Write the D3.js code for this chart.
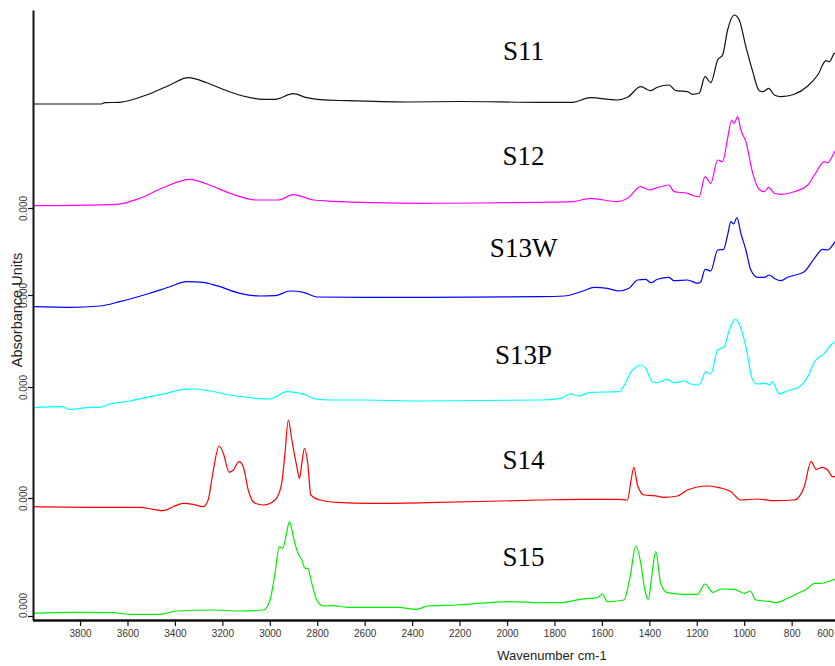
<!DOCTYPE html>
<html><head><meta charset="utf-8">
<script src="https://cdn.jsdelivr.net/npm/d3@7/dist/d3.min.js"></script>
<style>body{margin:0;background:#fff}svg{display:block}</style>
</head><body><svg id="chart" width="835" height="666"></svg>
<script>
// ---------- data ----------
const seriesNames   = ["S11", "S12", "S13W", "S13P", "S14", "S15"];
const seriesColors  = ["#111111", "#ff00ff", "#0000ff", "#00ffff", "#ff0000", "#00ee00"];
const seriesOffsets = [5.16, 4.12, 3.25, 2.33, 1.22, 0.04];   // stacked zero of each spectrum
const labelWavenumber = 1930;
const labelLevels   = [5.60, 4.55, 3.63, 2.56, 1.51, 0.54];
const xTickValues   = [3800, 3600, 3400, 3200, 3000, 2800, 2600, 2400, 2200, 2000, 1800, 1600, 1400, 1200, 1000, 800, 600];
const yTickValues   = [4.12, 3.25, 2.33, 1.22, 0.04];
const yTickLabel    = "0.000";

const s11 = [[4000,0],[3710,0],[3696,0.013],[3633,0.017],[3520,0.09],[3421,0.19],[3344,0.263],[3266,0.213],[3198,0.147],[3113,0.08],[3029,0.047],[2978,0.047],[2901,0.103],[2844,0.063],[2788,0.043],[2675,0.033],[2422,0.02],[2197,0.025],[1859,0.017],[1725,0.017],[1648,0.063],[1535,0.04],[1492,0.067],[1436,0.173],[1394,0.133],[1366,0.167],[1317,0.19],[1288,0.133],[1239,0.123],[1218,0.097],[1190,0.107],[1165,0.273],[1141,0.213],[1112,0.44],[1091,0.49],[1070,0.74],[1042,0.89],[1021,0.84],[993,0.573],[964,0.323],[937,0.133],[922,0.123],[897,0.157],[873,0.09],[845,0.073],[789,0.097],[732,0.18],[690,0.29],[655,0.433],[641,0.423],[620,0.507],[600,0.52]];
const s12 = [[4000,0.023],[3646,0.037],[3548,0.097],[3450,0.203],[3337,0.287],[3266,0.24],[3168,0.147],[3055,0.08],[2964,0.08],[2901,0.133],[2816,0.08],[2732,0.067],[2563,0.053],[2366,0.047],[2112,0.05],[1859,0.057],[1725,0.063],[1648,0.097],[1535,0.063],[1492,0.097],[1436,0.213],[1401,0.18],[1366,0.203],[1317,0.23],[1296,0.163],[1239,0.147],[1211,0.12],[1190,0.113],[1165,0.313],[1141,0.247],[1112,0.48],[1091,0.463],[1070,0.697],[1053,0.88],[1042,0.847],[1028,0.913],[1014,0.78],[993,0.663],[964,0.347],[937,0.187],[916,0.163],[897,0.207],[873,0.147],[845,0.137],[789,0.163],[732,0.23],[704,0.33],[662,0.463],[648,0.453],[613,0.58],[600,0.6]];
const s13w = [[4000,-0.117],[3844,-0.123],[3717,-0.11],[3633,-0.067],[3506,0.017],[3421,0.083],[3351,0.133],[3281,0.127],[3224,0.093],[3126,0.017],[3041,-0.01],[2978,-0.007],[2915,0.04],[2858,0.027],[2802,-0.02],[2605,-0.023],[2337,-0.023],[1859,-0.017],[1760,-0.01],[1676,0.043],[1634,0.077],[1577,0.067],[1528,0.04],[1486,0.067],[1450,0.15],[1415,0.157],[1394,0.123],[1366,0.157],[1317,0.177],[1296,0.143],[1239,0.15],[1197,0.117],[1183,0.133],[1165,0.257],[1141,0.24],[1112,0.45],[1087,0.457],[1070,0.6],[1056,0.733],[1045,0.71],[1031,0.773],[1014,0.617],[993,0.45],[972,0.25],[943,0.177],[916,0.177],[894,0.2],[873,0.167],[845,0.143],[817,0.177],[747,0.233],[704,0.367],[669,0.457],[648,0.45],[613,0.54],[600,0.56]];
const s13p = [[4000,-0.207],[3879,-0.197],[3844,-0.223],[3752,-0.203],[3717,-0.203],[3675,-0.17],[3590,-0.14],[3506,-0.097],[3435,-0.063],[3365,-0.023],[3309,-0.02],[3252,-0.04],[3168,-0.08],[3084,-0.107],[2999,-0.12],[2929,-0.047],[2886,-0.057],[2844,-0.083],[2816,-0.117],[2746,-0.13],[2605,-0.13],[2366,-0.14],[1859,-0.13],[1774,-0.113],[1732,-0.07],[1697,-0.09],[1648,-0.053],[1528,-0.047],[1471,0.17],[1436,0.22],[1415,0.187],[1387,0.053],[1366,0.043],[1324,0.077],[1296,0.043],[1253,0.06],[1225,0.03],[1190,0.02],[1162,0.153],[1141,0.13],[1112,0.37],[1084,0.403],[1063,0.57],[1038,0.677],[1014,0.587],[993,0.403],[964,0.07],[943,0.03],[908,0.037],[894,0.02],[880,0.053],[869,0.003],[852,-0.07],[817,-0.037],[774,-0.007],[732,0.103],[704,0.253],[662,0.337],[634,0.42],[613,0.46],[600,0.47]];
const s14 = [[4000,-0.087],[3759,-0.093],[3548,-0.093],[3492,-0.113],[3450,-0.127],[3407,-0.087],[3365,-0.053],[3323,-0.063],[3281,-0.087],[3260,-0.02],[3238,0.28],[3214,0.52],[3196,0.447],[3171,0.257],[3154,0.28],[3130,0.363],[3112,0.313],[3091,0.08],[3062,-0.053],[3027,-0.07],[2978,-0.02],[2950,0.147],[2936,0.447],[2922,0.78],[2907,0.58],[2886,0.313],[2875,0.197],[2865,0.347],[2854,0.497],[2840,0.347],[2827,0.03],[2788,-0.02],[2717,-0.043],[2577,-0.053],[2337,-0.047],[1859,-0.02],[1690,-0.013],[1535,-0.013],[1492,-0.02],[1478,0.163],[1465,0.307],[1450,0.13],[1422,0.03],[1380,0.023],[1338,0.007],[1281,0.02],[1239,0.08],[1155,0.12],[1112,0.107],[1056,0.063],[1014,-0.02],[943,-0.01],[873,-0.027],[789,-0.02],[747,0.113],[718,0.363],[697,0.287],[669,0.307],[648,0.28],[627,0.213],[613,0.213],[600,0.21]];
const s15 = [[4000,0.027],[3844,0.037],[3661,0.033],[3590,0.017],[3464,0.017],[3393,0.05],[3238,0.06],[3126,0.05],[3027,0.06],[2999,0.16],[2978,0.427],[2960,0.693],[2945,0.677],[2931,0.81],[2917,0.943],[2901,0.793],[2886,0.66],[2865,0.56],[2851,0.477],[2840,0.477],[2823,0.327],[2802,0.16],[2774,0.1],[2732,0.103],[2675,0.087],[2464,0.087],[2379,0.067],[2337,0.1],[2210,0.11],[1985,0.143],[1859,0.133],[1774,0.133],[1690,0.167],[1619,0.183],[1598,0.22],[1577,0.143],[1507,0.16],[1481,0.393],[1457,0.7],[1436,0.527],[1419,0.26],[1404,0.167],[1390,0.393],[1373,0.643],[1352,0.327],[1324,0.233],[1253,0.217],[1197,0.217],[1165,0.32],[1133,0.237],[1098,0.27],[1042,0.267],[1000,0.227],[975,0.25],[951,0.16],[887,0.143],[866,0.133],[817,0.177],[768,0.233],[732,0.277],[704,0.327],[676,0.327],[613,0.367],[600,0.37]];
const seriesData = [s11, s12, s13w, s13p, s14, s15];

// ---------- chart ----------
const svg = d3.select("#chart");
const x = d3.scaleLinear().domain([4000, 600]).range([32.6, 839.1]);
const y = d3.scaleLinear().domain([0, 6.1]).range([620, 10]);
const axisColor = "#111";
const tickFont = "'Liberation Sans', Arial, sans-serif";

svg.append("defs").append("clipPath").attr("id", "plotclip")
  .append("rect").attr("x", 33).attr("y", 0).attr("width", 802).attr("height", 620);

const line = d3.line().curve(d3.curveMonotoneX);
const g = svg.append("g").attr("clip-path", "url(#plotclip)");
seriesData.forEach((data, i) => {
  line.x(d => x(d[0])).y(d => y(seriesOffsets[i] + d[1]));
  g.append("path").datum(data)
    .attr("d", line)
    .attr("fill", "none")
    .attr("stroke", seriesColors[i])
    .attr("stroke-width", 1.2)
    .attr("stroke-linejoin", "round");
});

// sample labels
svg.append("g").selectAll("text").data(seriesNames).join("text")
  .attr("x", x(labelWavenumber))
  .attr("y", (d, i) => y(labelLevels[i]))
  .attr("text-anchor", "middle")
  .attr("font-family", "'Liberation Serif', 'Times New Roman', serif")
  .attr("font-size", 27)
  .attr("fill", "#000")
  .text(d => d);

// bottom axis
const xAxis = svg.append("g").attr("transform", `translate(0,${y(0)})`)
  .call(d3.axisBottom(x).tickValues(xTickValues).tickSize(6).tickSizeOuter(0).tickPadding(4).tickFormat(d3.format("d")));
xAxis.select(".domain").attr("stroke", axisColor).attr("stroke-width", 2.6);
xAxis.selectAll(".tick line").attr("stroke", axisColor).attr("stroke-width", 1.2);
xAxis.selectAll(".tick text")
  .attr("font-family", tickFont).attr("font-size", 10).attr("fill", "#3a3530")
  .attr("x", d => Math.min(x(d), 825) - x(d));

// left axis
const yAxis = svg.append("g").attr("transform", `translate(${x(4000) + 0.4},0)`)
  .call(d3.axisLeft(y).tickValues(yTickValues).tickSize(5).tickSizeOuter(0).tickFormat(() => yTickLabel));
yAxis.select(".domain").attr("stroke", axisColor).attr("stroke-width", 2);
yAxis.selectAll(".tick line").attr("stroke", axisColor).attr("stroke-width", 1.2);
yAxis.selectAll(".tick text")
  .attr("font-family", tickFont).attr("font-size", 10).attr("fill", "#3a3530")
  .attr("x", null).attr("dy", null)
  .attr("text-anchor", "middle")
  .attr("transform", d => `translate(-6,${Math.min(0, 605 - y(d))}) rotate(-90)`);

// axis titles
svg.append("text")
  .attr("x", 552).attr("y", 660)
  .attr("text-anchor", "middle")
  .attr("font-family", tickFont).attr("font-size", 13).attr("fill", "#222")
  .text("Wavenumber cm-1");
svg.append("text")
  .attr("transform", "translate(22,310) rotate(-90)")
  .attr("text-anchor", "middle")
  .attr("font-family", tickFont).attr("font-size", 14.5).attr("fill", "#222")
  .text("Absorbance Units");
</script>
</body></html>
